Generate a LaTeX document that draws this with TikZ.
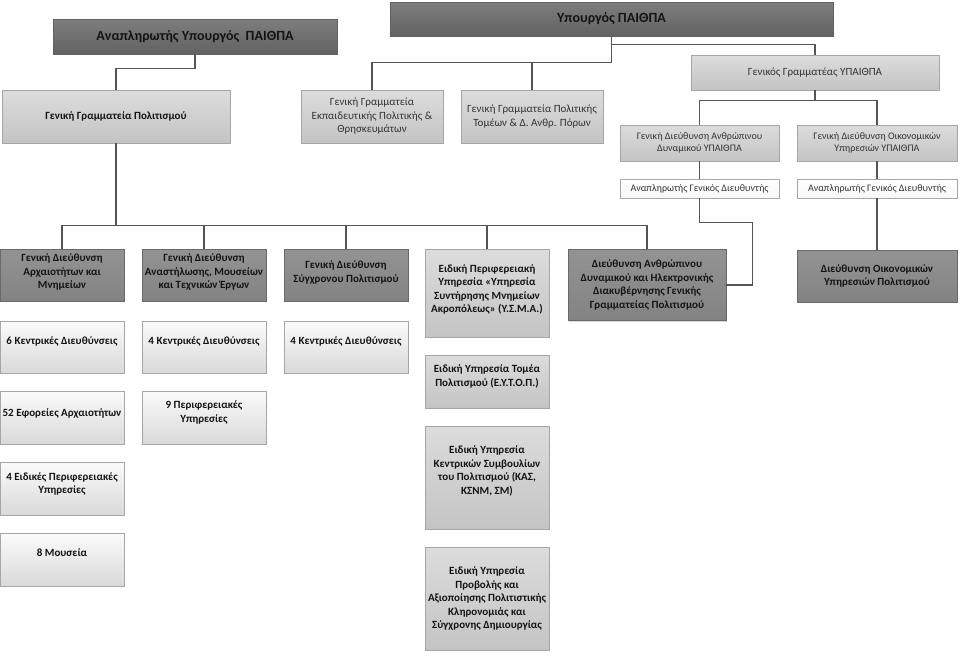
\documentclass[tikz,border=0pt]{standalone}
\usepackage{fontspec}
\setmainfont{Carlito}
\usetikzlibrary{shadows}
\definecolor{mingray}{HTML}{6F6F6F}
\definecolor{mindark}{HTML}{626262}
\definecolor{dirtop}{HTML}{939393}
\definecolor{dirbot}{HTML}{838383}
\definecolor{lttop}{HTML}{DCDCDC}
\definecolor{ltbot}{HTML}{C4C4C4}
\definecolor{paletop}{HTML}{FBFBFB}
\definecolor{palebot}{HTML}{D9D9D9}
\definecolor{boxline}{HTML}{A6A6A6}
\definecolor{linegray}{HTML}{555555}
\definecolor{txtdark}{HTML}{141414}
\definecolor{txtreg}{HTML}{333333}

\begin{document}
\begin{tikzpicture}[x=1pt, y=-1pt,
  box/.style={draw=boxline, line width=0.6pt, align=center, inner sep=1pt,
    drop shadow={shadow xshift=1.3pt, shadow yshift=-1.3pt, opacity=0.3}},
  raised/.style={text depth=#1}, raised/.default=12pt,
  minbox/.style={box, draw=mindark, top color=mingray!90!white, bottom color=mindark,
    text=txtdark, font=\fontsize{14}{16}\selectfont\bfseries},
  dirbox/.style={box, draw=dirbot!80!black, top color=dirtop, bottom color=dirbot,
    text=txtdark, font=\fontsize{11}{13.5}\selectfont\bfseries},
  ltbox/.style={box, top color=lttop, bottom color=ltbot,
    text=txtdark, font=\fontsize{11}{13.5}\selectfont\bfseries},
  ltplain/.style={box, top color=lttop, bottom color=ltbot,
    text=txtreg, font=\fontsize{11}{13.5}\selectfont},
  smplain/.style={box, top color=lttop, bottom color=ltbot,
    text=txtreg, font=\fontsize{10}{12.5}\selectfont},
  palebox/.style={box, top color=paletop, bottom color=palebot,
    text=txtdark, font=\fontsize{11}{13.5}\selectfont\bfseries},
  agdbox/.style={box, top color=white, bottom color=paletop!90!palebot,
    text=txtreg, font=\fontsize{10}{12}\selectfont},
  conn/.style={draw=linegray, line width=1.4pt}]

\useasboundingbox (0,0) rectangle (960,665);

% Top level
\node[minbox, minimum width=284, minimum height=35] (dep) at (195,36.5)
  {Αναπληρωτής Υπουργός~~ΠΑΙΘΠΑ};
\node[minbox, minimum width=443, minimum height=34] (min) at (611.5,19)
  {Υπουργός ΠΑΙΘΠΑ};

% General secretariats
\node[ltbox, minimum width=228, minimum height=53] (ggp) at (116,116.5)
  {Γενική Γραμματεία Πολιτισμού};
\node[ltplain, minimum width=142, minimum height=53] (gge) at (372,116.5)
  {Γενική Γραμματεία\\Εκπαιδευτικής Πολιτικής \&\\Θρησκευμάτων};
\node[ltplain, minimum width=142, minimum height=53] (ggt) at (532,116.5)
  {Γενική Γραμματεία Πολιτικής\\Τομέων \& Δ. Ανθρ. Πόρων};
\node[ltplain, minimum width=248, minimum height=35] (gs) at (815,72.5)
  {Γενικός Γραμματέας ΥΠΑΙΘΠΑ};

% Secretary general branch
\node[smplain, minimum width=159, minimum height=36] (gdad) at (699.5,143)
  {Γενική Διεύθυνση Ανθρώπινου\\Δυναμικού ΥΠΑΙΘΠΑ};
\node[smplain, minimum width=160, minimum height=36] (gdoy) at (877,143)
  {Γενική Διεύθυνση Οικονομικών\\Υπηρεσιών ΥΠΑΙΘΠΑ};
\node[agdbox, minimum width=159, minimum height=19] (agd1) at (699.5,188.5)
  {Αναπληρωτής Γενικός Διευθυντής};
\node[agdbox, minimum width=160, minimum height=19] (agd2) at (877,188.5)
  {Αναπληρωτής Γενικός Διευθυντής};

% Directorates under the culture secretariat
\node[dirbox, raised=7pt, minimum width=124, minimum height=52] (gda) at (62,275)
  {Γενική Διεύθυνση\\Αρχαιοτήτων και\\Μνημείων};
\node[dirbox, raised=7pt, minimum width=124, minimum height=52] (gdam) at (204,275)
  {Γενική Διεύθυνση\\Αναστήλωσης, Μουσείων\\και Τεχνικών Έργων};
\node[dirbox, raised=7pt, minimum width=124, minimum height=52] (gdsp) at (346,275)
  {Γενική Διεύθυνση\\Σύγχρονου Πολιτισμού};
\node[ltbox, raised=9pt, minimum width=124, minimum height=88] (epy) at (487,293)
  {Ειδική Περιφερειακή\\Υπηρεσία «Υπηρεσία\\Συντήρησης Μνημείων\\Ακροπόλεως» (Υ.Σ.Μ.Α.)};
\node[dirbox, minimum width=158, minimum height=71] (dahd) at (647,285)
  {Διεύθυνση Ανθρώπινου\\Δυναμικού και Ηλεκτρονικής\\Διακυβέρνησης Γενικής\\Γραμματείας Πολιτισμού};
\node[dirbox, minimum width=160, minimum height=52] (doyp) at (877,276)
  {Διεύθυνση Οικονομικών\\Υπηρεσιών Πολιτισμού};

% Lower units
\node[palebox, raised=13pt, minimum width=124, minimum height=52] (kd1) at (62,347)
  {6 Κεντρικές Διευθύνσεις};
\node[palebox, raised=13pt, minimum width=124, minimum height=52] (kd2) at (204,347)
  {4 Κεντρικές Διευθύνσεις};
\node[palebox, raised=13pt, minimum width=124, minimum height=52] (kd3) at (346,347)
  {4 Κεντρικές Διευθύνσεις};
\node[palebox, raised=10pt, minimum width=124, minimum height=53] (efa) at (62,417.5)
  {52 Εφορείες Αρχαιοτήτων};
\node[palebox, raised, minimum width=124, minimum height=53] (ppy) at (204,417.5)
  {9 Περιφερειακές\\Υπηρεσίες};
\node[palebox, raised=11pt, minimum width=124, minimum height=53] (eps) at (62,488.5)
  {4 Ειδικές Περιφερειακές\\Υπηρεσίες};
\node[palebox, raised=13pt, minimum width=124, minimum height=53] (mus) at (62,559.5)
  {8 Μουσεία};

% Special services
\node[ltbox, raised, minimum width=124, minimum height=53] (eytop) at (487,381.5)
  {Ειδική Υπηρεσία Τομέα\\Πολιτισμού (Ε.Υ.Τ.Ο.Π.)};
\node[ltbox, raised=15pt, minimum width=124, minimum height=103] (kas) at (487,477.5)
  {Ειδική Υπηρεσία\\Κεντρικών Συμβουλίων\\του Πολιτισμού (ΚΑΣ,\\ΚΣΝΜ, ΣΜ)};
\node[ltbox, minimum width=124, minimum height=103] (prov) at (487,598.5)
  {Ειδική Υπηρεσία\\Προβολής και\\Αξιοποίησης Πολιτιστικής\\Κληρονομιάς και\\Σύγχρονης Δημιουργίας};

% Connectors
\draw[conn] (dep.south) -- ++(0,14) -| (ggp.north);
\draw[conn] (min.south) -- ++(0,26) -| (gge.north);
\draw[conn] (min.south) -- ++(0,26) -| (ggt.north);
\draw[conn] (min.south) -- ++(0,8) -| (gs.north);
\draw[conn] (gs.south) -- ++(0,10) -| (gdad.north);
\draw[conn] (gs.south) -- ++(0,10) -| (gdoy.north);
\draw[conn] (gdad.south) -- (agd1.north);
\draw[conn] (gdoy.south) -- (agd2.north);
\draw[conn] (agd2.south) -- (doyp.north);
\draw[conn] (agd1.south) |- ++(53,24) |- (dahd.east);
\draw[conn] (ggp.south) -- ++(0,82) coordinate (bus);
\foreach \n in {gda,gdam,gdsp,epy,dahd}
  \draw[conn] (bus) -| (\n.north);

\end{tikzpicture}
\end{document}
